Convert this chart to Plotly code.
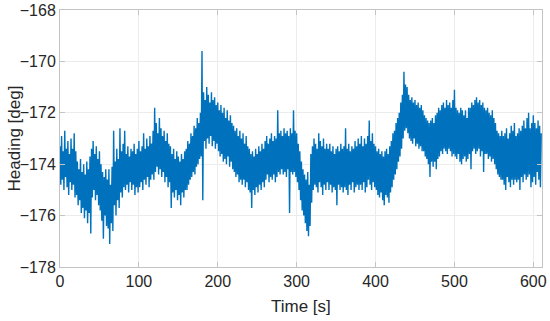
import plotly.graph_objects as go

time_step_s = 1
heading_deg = [
    # 0-19 s
    -173.3, -174.8, -172.9, -174.6, -173.5, -175.0, -172.7, -174.5, -173.4, -174.9,
    -173.1, -175.2, -173.6, -174.7, -173.0, -175.0, -173.4, -174.8, -172.8, -175.3,
    # 20-39 s
    -173.5, -175.2, -173.9, -175.6, -174.2, -175.4, -173.8, -175.9, -174.3, -175.7,
    -174.0, -176.1, -174.4, -175.8, -173.9, -176.3, -174.2, -175.9, -173.7, -176.7,
    # 40-59 s
    -173.4, -175.3, -173.1, -175.0, -173.6, -175.4, -173.3, -175.2, -173.8, -175.6,
    -173.5, -175.8, -174.0, -176.2, -174.3, -176.9, -174.5, -176.0, -174.2, -176.4,
    # 60-79 s
    -174.6, -176.5, -174.2, -177.1, -174.8, -176.3, -174.1, -176.6, -172.7, -175.6,
    -173.9, -176.0, -173.4, -175.4, -173.8, -175.7, -172.6, -175.1, -173.5, -175.3,
    # 80-99 s
    -173.2, -174.9, -172.7, -175.0, -173.6, -174.8, -173.3, -175.1, -173.7, -174.7,
    -173.4, -175.0, -173.5, -174.8, -173.2, -175.2, -173.6, -174.9, -173.4, -175.1,
    # 100-119 s
    -173.1, -174.9, -173.5, -174.7, -173.3, -175.0, -172.8, -174.6, -173.4, -174.8,
    -173.0, -174.5, -173.3, -174.9, -172.9, -174.6, -173.2, -174.4, -172.7, -174.6,
    # 120-139 s
    -171.8, -174.3, -172.4, -174.1, -172.8, -174.4, -172.2, -174.2, -172.6, -174.5,
    -172.9, -174.3, -172.7, -174.7, -173.1, -174.5, -172.8, -174.9, -173.2, -174.7,
    # 140-159 s
    -173.3, -175.7, -173.6, -175.1, -173.4, -175.3, -173.8, -175.0, -173.5, -175.4,
    -173.7, -175.2, -173.9, -175.6, -173.6, -175.1, -173.8, -175.3, -173.5, -175.0,
    # 160-179 s
    -173.4, -175.0, -173.1, -174.8, -173.2, -174.6, -172.8, -174.5, -172.9, -174.3,
    -172.5, -174.4, -172.6, -174.1, -172.2, -174.0, -172.4, -173.8, -172.0, -173.7,
    # 180-199 s
    -169.6, -175.4, -171.2, -173.1, -171.5, -173.4, -171.0, -173.0, -171.3, -173.2,
    -171.6, -172.9, -171.2, -173.3, -171.5, -173.1, -171.4, -173.4, -171.7, -173.2,
    # 200-219 s
    -171.6, -173.5, -171.9, -173.7, -171.7, -173.6, -172.0, -173.9, -171.8, -173.8,
    -172.2, -174.0, -171.9, -173.7, -172.3, -174.1, -172.1, -173.9, -172.4, -174.2,
    # 220-239 s
    -172.5, -174.3, -172.7, -174.5, -172.6, -174.4, -172.9, -174.7, -172.7, -174.6,
    -173.0, -174.8, -172.8, -174.6, -173.2, -174.9, -172.9, -174.7, -173.3, -175.0,
    # 240-259 s
    -173.4, -175.1, -173.6, -175.7, -173.5, -175.0, -173.7, -175.2, -173.4, -174.9,
    -173.6, -175.1, -173.3, -174.8, -173.5, -175.0, -173.2, -174.7, -173.4, -174.9,
    # 260-279 s
    -173.1, -174.6, -172.9, -174.4, -173.2, -174.7, -173.0, -174.5, -172.8, -174.6,
    -173.1, -174.4, -172.9, -174.7, -173.0, -174.5, -171.9, -174.3, -172.8, -174.4,
    # 280-299 s
    -172.7, -174.2, -172.9, -174.4, -172.6, -174.3, -172.8, -174.5, -172.7, -174.2,
    -172.9, -175.9, -172.6, -174.3, -172.8, -174.4, -171.9, -174.3, -172.7, -174.5,
    # 300-319 s
    -172.8, -174.7, -173.2, -175.0, -173.5, -175.4, -173.9, -175.8, -174.2, -176.0,
    -174.4, -176.3, -174.6, -176.6, -174.3, -176.8, -174.8, -176.4, -173.6, -175.5,
    # 320-339 s
    -173.3, -175.0, -173.0, -174.8, -173.2, -174.9, -173.4, -175.1, -172.8, -174.7,
    -173.1, -174.9, -173.3, -175.2, -173.0, -174.8, -173.4, -175.0, -173.2, -174.7,
    # 340-359 s
    -173.4, -175.0, -173.2, -174.8, -173.5, -175.1, -173.3, -174.9, -173.6, -175.0,
    -173.4, -175.6, -173.3, -174.8, -173.5, -175.0, -173.2, -174.9, -173.4, -175.1,
    # 360-379 s
    -173.3, -174.9, -172.6, -175.0, -173.4, -175.2, -173.2, -174.8, -173.5, -175.0,
    -173.3, -174.7, -173.4, -175.1, -173.1, -174.9, -173.3, -174.8, -173.0, -175.0,
    # 380-399 s
    -173.2, -174.8, -172.9, -175.0, -173.3, -174.7, -173.0, -175.1, -173.2, -174.9,
    -172.9, -174.6, -172.3, -174.8, -173.1, -175.0, -172.8, -174.7, -173.2, -174.9,
    # 400-419 s
    -173.3, -175.0, -173.5, -175.2, -173.4, -175.3, -173.6, -175.1, -173.5, -175.4,
    -173.7, -175.6, -173.5, -175.2, -173.4, -175.3, -173.6, -175.5, -173.3, -175.1,
    # 420-439 s
    -173.1, -174.9, -172.8, -174.6, -172.7, -174.4, -172.4, -174.2, -172.2, -173.9,
    -172.0, -173.7, -171.6, -173.4, -171.3, -173.0, -170.4, -172.7, -170.9, -172.6,
    # 440-459 s
    -171.0, -172.8, -171.3, -173.0, -171.5, -173.1, -171.4, -173.2, -171.6, -173.0,
    -171.5, -173.3, -171.7, -173.2, -171.6, -173.4, -171.8, -173.3, -171.7, -173.5,
    # 460-479 s
    -171.9, -173.5, -172.1, -173.7, -172.2, -173.8, -172.3, -174.0, -172.4, -174.5,
    -172.3, -173.9, -172.2, -174.1, -172.4, -173.9, -172.1, -174.2, -172.0, -173.8,
    # 480-499 s
    -171.8, -173.7, -171.9, -173.5, -171.7, -173.6, -171.6, -173.4, -171.8, -173.5,
    -171.5, -173.6, -171.7, -173.4, -171.6, -173.5, -171.8, -173.7, -171.5, -173.6,
    # 500-519 s
    -171.1, -173.7, -171.8, -173.8, -171.9, -173.6, -172.0, -173.9, -171.8, -174.0,
    -171.9, -173.8, -172.1, -173.7, -171.9, -173.9, -172.2, -173.8, -171.8, -173.6,
    # 520-539 s
    -171.8, -174.2, -171.6, -173.5, -171.7, -173.4, -171.5, -173.6, -171.4, -173.5,
    -171.6, -173.4, -171.5, -173.7, -171.7, -173.5, -171.6, -174.3, -171.8, -173.6,
    # 540-559 s
    -171.9, -173.6, -171.8, -173.8, -172.0, -173.7, -172.1, -173.9, -171.9, -173.8,
    -172.2, -174.0, -172.4, -174.2, -172.7, -174.4, -172.8, -174.5, -172.9, -174.6,
    # 560-579 s
    -172.7, -174.6, -172.9, -174.8, -172.8, -175.0, -172.6, -174.5, -173.0, -174.7,
    -172.8, -174.9, -172.5, -174.6, -172.7, -174.8, -172.4, -174.6, -172.9, -174.7,
    # 580-599 s
    -172.8, -174.6, -172.6, -175.0, -172.7, -174.5, -172.5, -174.7, -172.3, -174.4,
    -172.6, -174.6, -172.2, -174.5, -172.0, -174.4, -172.6, -174.9, -172.4, -174.7,
    # 600-610 s
    -172.1, -174.5, -172.4, -174.8, -172.6, -174.3, -172.3, -174.6, -172.5, -174.9,
    -172.8,
]
time_s = [i * time_step_s for i in range(len(heading_deg))]

x_ticks = [0, 100, 200, 300, 400, 500, 600]
y_ticks = [-178, -176, -174, -172, -170, -168]

fig = go.Figure()
fig.add_trace(go.Scatter(
    x=time_s, y=heading_deg, mode="lines",
    line=dict(color="#0072BD", width=1.4),
    showlegend=False, hoverinfo="skip",
))

axis_common = dict(
    showline=True, linecolor="#c4c4c4", linewidth=1, mirror="ticks",
    ticks="inside", ticklen=5, tickcolor="#c4c4c4",
    showgrid=True, gridcolor="#ececec", gridwidth=1,
    zeroline=False,
    tickfont=dict(family="Liberation Sans, Arial", size=16, color="#262626"),
)

fig.update_xaxes(range=[0, 611], tickvals=x_ticks, **axis_common)
fig.update_yaxes(range=[-178, -168], tickvals=y_ticks, **axis_common)

fig.add_annotation(
    text="Heading [deg]", xref="paper", yref="paper",
    x=-0.0934, y=0.5, textangle=-90, showarrow=False,
    xanchor="center", yanchor="middle",
    font=dict(family="Liberation Sans, Arial", size=17, color="#262626"),
)
fig.add_annotation(
    text="Time [s]", xref="paper", yref="paper",
    x=0.5, y=-0.152, showarrow=False,
    xanchor="center", yanchor="middle",
    font=dict(family="Liberation Sans, Arial", size=17, color="#262626"),
)

fig.update_layout(
    width=550, height=321,
    margin=dict(l=60, r=8, t=10, b=54, autoexpand=False),
    paper_bgcolor="white", plot_bgcolor="white",
)

fig.write_html(
    "out.html",
    config={"displayModeBar": False},
    post_script="document.body.style.margin='0';",
)
